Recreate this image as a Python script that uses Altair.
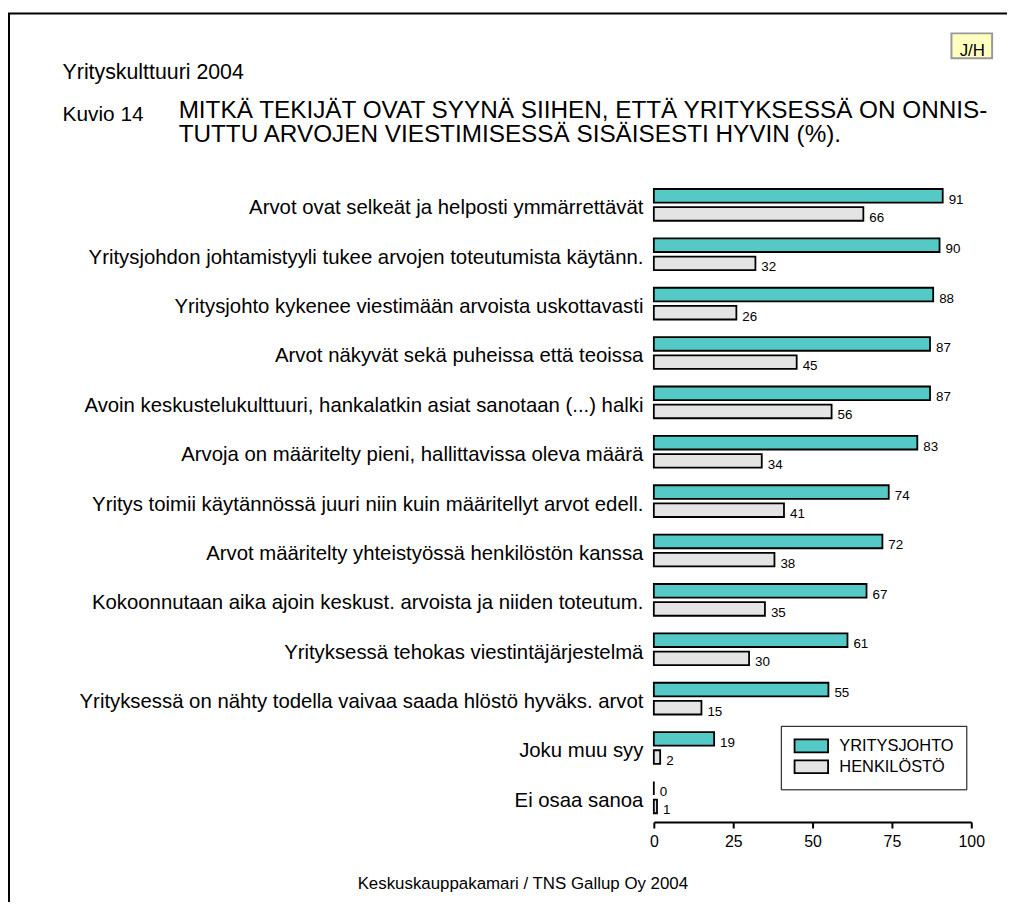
import altair as alt
import pandas as pd

categories = [
    "Arvot ovat selkeät ja helposti ymmärrettävät",
    "Yritysjohdon johtamistyyli tukee arvojen toteutumista käytänn.",
    "Yritysjohto kykenee viestimään arvoista uskottavasti",
    "Arvot näkyvät sekä puheissa että teoissa",
    "Avoin keskustelukulttuuri, hankalatkin asiat sanotaan (...) halki",
    "Arvoja on määritelty pieni, hallittavissa oleva määrä",
    "Yritys toimii käytännössä juuri niin kuin määritellyt arvot edell.",
    "Arvot määritelty yhteistyössä henkilöstön kanssa",
    "Kokoonnutaan aika ajoin keskust. arvoista ja niiden toteutum.",
    "Yrityksessä tehokas viestintäjärjestelmä",
    "Yrityksessä on nähty todella vaivaa saada hlöstö hyväks. arvot",
    "Joku muu syy",
    "Ei osaa sanoa",
]
series = ["YRITYSJOHTO", "HENKILÖSTÖ"]
yritysjohto = [91, 90, 88, 87, 87, 83, 74, 72, 67, 61, 55, 19, 0]
henkilosto = [66, 32, 26, 45, 56, 34, 41, 38, 35, 30, 15, 2, 1]
colors = ["#55C9C5", "#E4E4E4"]
x_ticks = [0, 25, 50, 75, 100]
title_lines = ["MITKÄ TEKIJÄT OVAT SYYNÄ SIIHEN, ETTÄ YRITYKSESSÄ ON ONNIS-",
               "TUTTU ARVOJEN VIESTIMISESSÄ SISÄISESTI HYVIN (%)."]

rows = []
for c, a, b in zip(categories, yritysjohto, henkilosto):
    rows.append({"category": c, "series": series[0], "value": a})
    rows.append({"category": c, "series": series[1], "value": b})
df = pd.DataFrame(rows)
one = pd.DataFrame({"k": [0]})

FONT = "Liberation Sans"

y_enc = alt.Y(
    "category:N", sort=categories, title=None,
    scale=alt.Scale(paddingInner=0.357, paddingOuter=0.1785),
    axis=alt.Axis(domain=False, ticks=False, labelFontSize=20.5, labelColor="black",
                  labelPadding=11, labelBaseline="alphabetic", labelOffset=9.5,
                  labelLimit=0, labelFont=FONT),
)
yoff_enc = alt.YOffset("series:N", sort=series, scale=alt.Scale(paddingInner=0.25, paddingOuter=0))
x_enc = alt.X(
    "value:Q", title=None, scale=alt.Scale(domain=[0, 100], nice=False),
    axis=alt.Axis(values=x_ticks, grid=False, domainColor="black", domainWidth=2,
                  tickColor="black", tickWidth=2, tickSize=6, labelFontSize=16,
                  labelColor="black", labelPadding=6, labelFont=FONT, labelFlush=False),
)

bars = alt.Chart(df).mark_bar(stroke="black", strokeWidth=1.8, opacity=1).encode(
    y=y_enc,
    yOffset=yoff_enc,
    x=x_enc,
    fill=alt.Fill(
        "series:N", sort=series,
        scale=alt.Scale(domain=series, range=colors),
        legend=alt.Legend(
            title=None, orient="none", legendX=128, legendY=550,
            strokeColor="black", padding=12,
            symbolType="M-2.6,-1H2.6V1H-2.6Z", symbolSize=169,
            symbolOffset=10.5, symbolStrokeColor="black", symbolStrokeWidth=1.8,
            symbolOpacity=1, labelOffset=20, labelFontSize=16.5, labelColor="black",
            labelFont=FONT, rowPadding=0,
        ),
    ),
)

labels = alt.Chart(df).mark_text(align="left", baseline="middle", dx=6, dy=4,
                                 fontSize=13.5, font=FONT, color="black").encode(
    y=alt.Y("category:N", sort=categories),
    yOffset=alt.YOffset("series:N", sort=series),
    x=alt.X("value:Q"),
    text=alt.Text("value:Q"),
)

frame = alt.Chart(one).mark_rect(fillOpacity=0, stroke="black", strokeWidth=2).encode(
    x=alt.value(-650), x2=alt.value(400), y=alt.value(-168), y2=alt.value(760)
)
jh_box = alt.Chart(one).mark_rect(fill="#FFFFC0", stroke="#999999", strokeWidth=2).encode(
    x=alt.value(300), x2=alt.value(341), y=alt.value(-148), y2=alt.value(-123)
)
jh_text = alt.Chart(one).mark_text(text="J/H", fontSize=17, font=FONT, color="black",
                                   align="center", baseline="alphabetic").encode(
    x=alt.value(321), y=alt.value(-125)
)
t_year = alt.Chart(one).mark_text(text="Yrityskulttuuri 2004", fontSize=21.5, font=FONT,
                                  color="black", align="left", baseline="alphabetic").encode(
    x=alt.value(-596), y=alt.value(-102)
)
t_kuvio = alt.Chart(one).mark_text(text="Kuvio 14", fontSize=21, font=FONT,
                                   color="black", align="left", baseline="alphabetic").encode(
    x=alt.value(-596), y=alt.value(-60)
)
t_title = alt.Chart(one).mark_text(
    text=title_lines, fontSize=24.5, font=FONT, color="black", align="left",
    baseline="middle", lineHeight=25,
).encode(x=alt.value(-479), y=alt.value(-70))
t_foot = alt.Chart(one).mark_text(text="Keskuskauppakamari / TNS Gallup Oy 2004", fontSize=17,
                                  font=FONT, color="black", align="center",
                                  baseline="alphabetic").encode(
    x=alt.value(-132), y=alt.value(714)
)

chart = alt.layer(frame, jh_box, jh_text, t_year, t_kuvio, t_title, t_foot, bars, labels).properties(
    width=320, height=647,
    autosize=alt.AutoSizeParams(type="none"),
    padding={"left": 651, "top": 170, "right": 36, "bottom": 77},
).configure(font=FONT, background="white").configure_view(stroke=None)

chart.save("out.html", embed_options={"renderer": "svg", "actions": False})
